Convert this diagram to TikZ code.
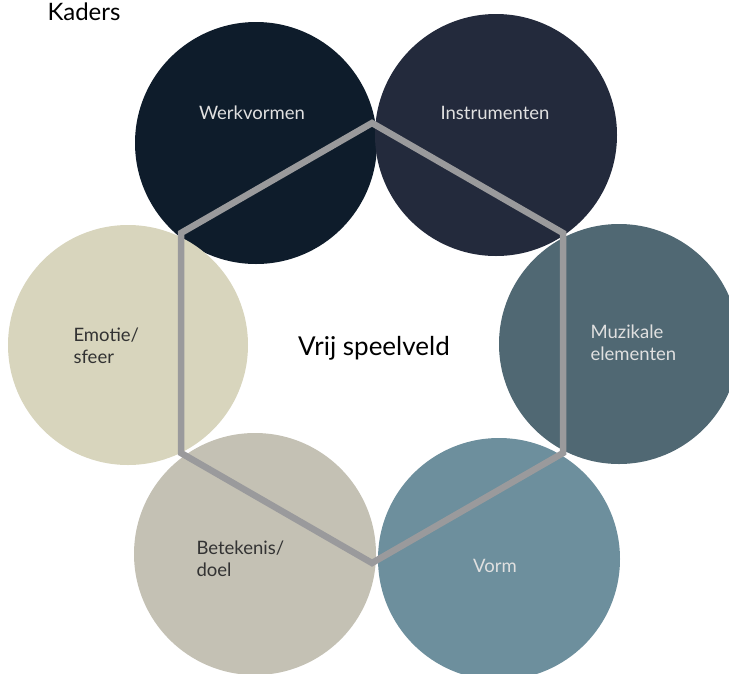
\documentclass[tikz,border=0pt]{standalone}
\usepackage{fontspec}
\setmainfont{Lato}
\definecolor{werkcol}{HTML}{0E1C2B}
\definecolor{instrcol}{HTML}{232A3C}
\definecolor{muzcol}{HTML}{506873}
\definecolor{vormcol}{HTML}{6D8F9D}
\definecolor{betekcol}{HTML}{C4C1B4}
\definecolor{emocol}{HTML}{D8D5BD}
\definecolor{hexcol}{HTML}{9A9A9C}

\begin{document}
\begin{tikzpicture}[line cap=butt,line join=miter,x=1pt,y=-1pt,
  lighttxt/.style={text=white!88!black,font=\fontsize{18.5}{22}\selectfont,align=left},
  darktxt/.style={text=black!80,font=\fontsize{18.5}{22}\selectfont,align=left}]
\useasboundingbox (0,0) rectangle (729,673);
\clip (0,0) rectangle (729,673);
\fill [color=werkcol] (256,143) circle (121pt);
\fill [color=instrcol] (496,135) circle (121pt);
\fill [color=emocol] (128,345) circle (120pt);
\fill [color=muzcol] (619,344) circle (120pt);
\fill [color=betekcol] (255,554) circle (121pt);
\fill [color=vormcol] (499,559) circle (121pt);
\coordinate (t) at (372,123);
\coordinate (ur) at (563,233);
\coordinate (lr) at (563,453);
\coordinate (b) at (372,563);
\coordinate (ll) at (181,453);
\coordinate (ul) at (181,233);
\draw [line width=6.5pt,color=hexcol] (t)-- (ur)-- (lr)-- (b)-- (ll)-- (ul)-- cycle;
\node [text=black,font=\fontsize{24}{30}\selectfont,anchor=base west] (kaders) at (44,20) {Kaders};
\node [text=black,font=\fontsize{26}{30}\selectfont] (vrij) at (374,348) {Vrij speelveld};
\node [lighttxt] (werk) at (252,113) {Werkvormen};
\node [lighttxt] (instr) at (495,113) {Instrumenten};
\node [lighttxt,anchor=west] (muz) at (587,343) {Muzikale\\elementen};
\node [lighttxt] (vorm) at (495,566) {Vorm};
\node [darktxt,anchor=west] (betek) at (193,559) {Betekenis/\\doel};
\node [darktxt,anchor=west] (emo) at (70,346) {Emotie/\\sfeer};
\end{tikzpicture}
\end{document}
